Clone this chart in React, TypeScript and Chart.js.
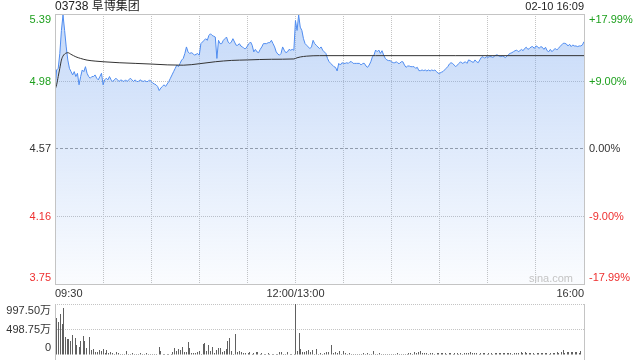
import React, { useEffect, useRef } from "react";
import { Chart, registerables } from "chart.js";

Chart.register(...registerables);

const FONT = '"Liberation Sans", Arial, "Noto Sans CJK SC", sans-serif';
Chart.defaults.font.family = FONT;

// ---------- data ----------
const titleText = "03738 阜博集团";
const stampText = "02-10 16:09";
const watermark = "sina.com";

const gridMinutes = [0, 30, 60, 90, 120, 150, 180, 210, 240, 270, 300, 330];
const xLabelMinutes = [0, 150, 330];
const xLabelTexts = ["09:30", "12:00/13:00", "16:00"];

const priceTicks = [5.39, 4.98, 4.57, 4.16, 3.75];
const priceTickLabels = ["5.39", "4.98", "4.57", "4.16", "3.75"];
const pctTickLabels = ["+17.99%", "+9.00%", "0.00%", "-9.00%", "-17.99%"];
const tickColors = ["#1ea01e", "#1ea01e", "#333333", "#ee2f2f", "#ee2f2f"];
const prevClose = 4.57;

const volTicks = [997.5, 498.75, 0];
const volTickLabels = ["997.50万", "498.75万", "0"];

// price per minute (index = minutes since 09:30, lunch break removed)
const prices = [
  4.93, 5.05, 5.06, 5.15, 5.29, 5.384, 5.29, 5.19, 5.11, 5.06,
  5.04, 5.02, 5.04, 5.01, 5.03, 4.96, 5.01, 5.05, 5.04, 5.07,
  5.03, 5.01, 5.0, 5.01, 5.01, 5.02, 5.0, 4.99, 5.01, 5.03,
  4.96, 4.99, 5.0, 4.99, 5.01, 4.99, 4.98, 4.99, 5.0, 4.99,
  4.98, 4.99, 4.985, 4.98, 4.99, 4.98, 4.99, 5.0, 4.99, 4.98,
  4.99, 4.98, 4.98, 4.99, 4.985, 4.98, 4.985, 4.98, 4.98, 4.99,
  4.98, 4.97, 4.965, 4.96, 4.95, 4.925, 4.94, 4.95, 4.96, 4.95,
  4.965, 4.98, 5.0, 5.02, 5.04, 5.06, 5.08, 5.07, 5.09, 5.11,
  5.12, 5.15, 5.19, 5.16, 5.15, 5.155, 5.15, 5.14, 5.145, 5.15,
  5.14, 5.21, 5.22, 5.23, 5.24, 5.23, 5.26, 5.27, 5.26, 5.255,
  5.25, 5.12, 5.23, 5.21, 5.21, 5.23, 5.24, 5.25, 5.22, 5.21,
  5.22, 5.24, 5.22, 5.2, 5.2, 5.21, 5.195, 5.19, 5.18, 5.18,
  5.195, 5.21, 5.22, 5.2, 5.16, 5.175, 5.16, 5.155, 5.175, 5.19,
  5.21, 5.21, 5.21, 5.216, 5.216, 5.23, 5.21, 5.19, 5.16, 5.147,
  5.14, 5.15, 5.19, 5.17, 5.155, 5.16, 5.175, 5.17, 5.175, 5.17,
  5.35, 5.29, 5.384, 5.31, 5.29, 5.24, 5.21, 5.2, 5.19, 5.18,
  5.19, 5.23, 5.21, 5.2, 5.19, 5.18, 5.19, 5.17, 5.16, 5.15,
  5.12, 5.1, 5.09, 5.08, 5.07, 5.066, 5.044, 5.09, 5.08, 5.094,
  5.09, 5.09, 5.094, 5.09, 5.1, 5.1, 5.09, 5.09, 5.09, 5.09,
  5.09, 5.08, 5.09, 5.09, 5.074, 5.066, 5.08, 5.1, 5.13, 5.141,
  5.171, 5.161, 5.171, 5.151, 5.167, 5.141, 5.121, 5.111, 5.107, 5.107,
  5.1, 5.094, 5.094, 5.1, 5.09, 5.09, 5.1, 5.1, 5.08, 5.066,
  5.074, 5.074, 5.07, 5.07, 5.07, 5.06, 5.066, 5.046, 5.046, 5.05,
  5.046, 5.05, 5.044, 5.05, 5.044, 5.05, 5.046, 5.05, 5.04, 5.03,
  5.03, 5.036, 5.04, 5.05, 5.06, 5.07, 5.086, 5.094, 5.09, 5.08,
  5.07, 5.08, 5.09, 5.1, 5.09, 5.094, 5.1, 5.09, 5.111, 5.107,
  5.1, 5.096, 5.111, 5.1, 5.094, 5.111, 5.127, 5.131, 5.121, 5.131,
  5.127, 5.131, 5.131, 5.127, 5.131, 5.141, 5.141, 5.135, 5.131, 5.135,
  5.131, 5.125, 5.135, 5.145, 5.151, 5.155, 5.161, 5.167, 5.171, 5.161,
  5.167, 5.175, 5.167, 5.181, 5.188, 5.175, 5.181, 5.19, 5.192, 5.181,
  5.196, 5.192, 5.181, 5.192, 5.188, 5.175, 5.188, 5.167, 5.161, 5.175,
  5.161, 5.171, 5.181, 5.171, 5.181, 5.192, 5.202, 5.212, 5.212, 5.208,
  5.196, 5.206, 5.192, 5.202, 5.196, 5.196, 5.192, 5.196, 5.196, 5.202,
  5.222,
];

// average price line
const avgMinutes = [0, 1, 2, 3, 4, 5, 6, 7, 8, 10, 13, 16, 20, 25, 30, 40, 50, 60, 70, 80, 90, 100, 110, 120, 135, 149, 151, 153, 157, 165, 200, 250, 300, 330];
const avgValues = [4.93, 4.96, 5.01, 5.06, 5.11, 5.135, 5.147, 5.153, 5.155, 5.145, 5.13, 5.12, 5.11, 5.104, 5.1, 5.094, 5.09, 5.086, 5.081, 5.079, 5.088, 5.1, 5.108, 5.111, 5.115, 5.117, 5.124, 5.129, 5.134, 5.137, 5.137, 5.137, 5.137, 5.137];

// volume bars: [minute, volume in 万]
const volumeBars: [number, number][] = [
  [0, 652], [1, 731], [2.3, 652], [3.3, 811], [4.4, 612], [5.2, 911], [6.4, 346], [7.7, 313], [8.5, 313], [9.8, 279],
  [11.2, 399], [12.7, 333], [13.7, 200], [15, 166], [16.2, 266], [17.5, 379], [18.5, 279], [19.8, 133], [21.4, 352], [22.7, 100],
  [24.1, 113], [25.4, 53], [26.6, 66], [27.9, 100], [28.9, 86], [30, 113], [31.2, 33], [32, 93], [33.3, 33], [34.5, 66],
  [35.8, 33], [37, 13], [38.3, 66], [39.5, 33], [40.8, 20], [42, 13], [43.3, 27], [44.5, 86], [45.8, 20], [47, 13],
  [48.3, 33], [49.5, 13], [50.8, 20], [52, 13], [53.3, 33], [54.5, 27], [55.7, 13], [57, 46], [58.2, 20], [59.5, 13],
  [60.7, 27], [62, 13], [63.2, 20], [64.9, 153], [66.1, 80], [67.4, 13], [68.6, 27], [69.9, 7], [71.1, 13], [72.4, 27],
  [73.6, 53], [74.5, 133], [75.7, 80], [77, 120], [78.2, 100], [79.5, 153], [80.7, 53], [82, 66], [83.2, 253], [84, 133],
  [85.3, 33], [86.5, 33], [87.8, 33], [89, 66], [89.9, 86], [91.1, 27], [92.4, 219], [93.2, 233], [94.4, 80], [95.7, 200],
  [96.9, 86], [98.2, 166], [99.4, 33], [100.7, 100], [101.9, 146], [103.2, 146], [104.4, 66], [105.7, 80], [106.9, 113], [107.7, 266],
  [108.6, 333], [109.8, 80], [110.4, 46], [111.6, 20], [112.9, 419], [114.1, 53], [115.4, 80], [116.6, 66], [117.9, 46], [119.1, 33],
  [120.4, 46], [121.6, 66], [122.9, 20], [124.1, 33], [125.4, 66], [126.6, 66], [127.9, 27], [129.1, 33], [130.4, 27], [131.6, 20],
  [132.9, 33], [134.1, 27], [135.4, 13], [136.6, 20], [137.9, 27], [139.1, 20], [140.3, 66], [141.6, 66], [142.8, 13], [144.1, 20],
  [145.3, 66], [146.6, 3], [147.8, 7], [149.1, 13], [150.3, 997.5], [151.4, 86], [152.4, 432], [153.2, 113], [154.5, 66], [155.7, 53],
  [157, 80], [158.2, 100], [159.5, 53], [160.7, 100], [162, 13], [163.2, 113], [164.5, 20], [165.7, 46], [167, 27], [168.2, 33],
  [169.5, 53], [170.7, 53], [172.4, 186], [173.6, 46], [174.9, 53], [176.1, 33], [177.4, 86], [178.6, 27], [179.9, 86], [181.1, 33],
  [182.4, 20], [183.6, 33], [184.9, 27], [186.1, 20], [187.4, 27], [188.6, 13], [189.9, 20], [191.1, 20], [192.4, 46], [193.6, 20],
  [194.8, 46], [196.1, 27], [197.3, 20], [198.6, 80], [199.8, 27], [201.1, 20], [202.3, 46], [203.6, 20], [204.8, 27], [206.1, 20],
  [207.3, 7], [208.6, 13], [209.8, 20], [211.1, 13], [212.3, 20], [213.6, 33], [214.8, 13], [216.1, 20], [217.3, 13], [218.6, 20],
  [219.8, 27], [220.8, 33], [222, 40], [223.3, 27], [224.5, 53], [225.8, 47], [227, 66], [228.3, 86], [229.5, 47], [230.8, 33],
  [232, 40], [233.3, 27], [234.5, 33], [235.8, 40], [237, 27], [238.3, 33], [239.5, 40], [240.8, 47], [242, 33], [243.3, 40],
  [244.5, 27], [245.8, 33], [247, 40], [248.3, 27], [249.5, 33], [250.8, 40], [252, 27], [253.2, 33], [254.5, 27], [255.7, 33],
  [257, 40], [258.2, 33], [259.5, 60], [260.7, 33], [262, 40], [263.2, 33], [264.5, 27], [265.7, 33], [267, 40], [268.2, 33],
  [269.5, 27], [270.7, 40], [272, 33], [273.2, 27], [274.5, 40], [275.7, 33], [277, 47], [278.2, 33], [279.5, 40], [280.7, 47],
  [282, 33], [283.2, 40], [284.4, 33], [285.7, 27], [286.9, 40], [288.2, 33], [289.4, 47], [290.7, 60], [291.9, 40], [293.2, 53],
  [294.4, 33], [295.7, 40], [296.9, 47], [298.2, 33], [299.4, 27], [300.7, 33], [301.9, 40], [303.2, 33], [304.4, 47], [305.7, 40],
  [306.9, 33], [308.2, 27], [309.4, 40], [310.7, 33], [311.9, 47], [313.2, 60], [314.4, 40], [315.7, 60], [316.9, 106], [318.1, 47],
  [319.4, 66], [320.6, 53], [321.9, 66], [323.1, 60], [324.4, 66], [325.6, 53], [326.9, 47], [328.1, 80], [330, 113],
];

// ---------- styles ----------
const GRID = "#c4c4c4";
const LINE_BLUE = "#4f8cf0";
const AVG_LINE = "#333333";
const BAR = "#606060";
const TEXT = "#333333";

const clamp = (v: number, lo: number, hi: number) => Math.min(Math.max(v, lo), hi);

const priceFrame = {
  id: "priceFrame",
  afterDraw(chart: any) {
    const { ctx, chartArea: a, scales } = chart;
    const ys = scales.y;
    ctx.save();
    ctx.setLineDash([]);
    ctx.strokeStyle = GRID;
    ctx.lineWidth = 1;
    ctx.strokeRect(a.left + 0.5, a.top + 0.5, a.right - a.left, a.bottom - a.top);

    ctx.font = `11px ${FONT}`;
    ctx.textBaseline = "middle";
    priceTicks.forEach((v, i) => {
      const py = clamp(ys.getPixelForValue(v), a.top + 6, a.bottom - 6);
      ctx.fillStyle = tickColors[i];
      ctx.textAlign = "right";
      ctx.fillText(priceTickLabels[i], a.left - 4, py);
      ctx.textAlign = "left";
      ctx.fillText(pctTickLabels[i], a.right + 5, py);
    });

    ctx.fillStyle = "#222222";
    ctx.font = `12px ${FONT}`;
    ctx.textAlign = "left";
    ctx.fillText(titleText, a.left, 7);
    ctx.font = `11px ${FONT}`;
    ctx.textAlign = "right";
    ctx.fillText(stampText, a.right, 7);

    ctx.fillStyle = "#c4c4c4";
    ctx.font = `11px ${FONT}`;
    ctx.textAlign = "right";
    ctx.fillText(watermark, a.right - 11, a.bottom - 5);
    ctx.restore();
  },
};

const volumeFrame = {
  id: "volumeFrame",
  beforeDatasetsDraw(chart: any) {
    const meta = chart.getDatasetMeta(0);
    meta.data.forEach((el: any) => {
      el.x = Math.round(el.x - 0.5) + 0.5;
      el.y = Math.round(el.y);
    });
  },
  afterDraw(chart: any) {
    const { ctx, chartArea: a, scales, height } = chart;
    const ys = scales.y;
    ctx.save();
    ctx.setLineDash([]);
    ctx.strokeStyle = GRID;
    ctx.lineWidth = 1;
    ctx.beginPath();
    ctx.moveTo(a.left + 0.5, a.top);
    ctx.lineTo(a.left + 0.5, height);
    ctx.moveTo(a.right + 0.5, a.top);
    ctx.lineTo(a.right + 0.5, height);
    ctx.stroke();

    ctx.font = `11px ${FONT}`;
    ctx.textBaseline = "middle";
    ctx.textAlign = "right";
    ctx.fillStyle = TEXT;
    volTicks.forEach((v, i) => {
      const py = clamp(ys.getPixelForValue(v), a.top + 7, a.bottom - 7);
      ctx.fillText(volTickLabels[i], a.left - 4, py);
    });
    ctx.restore();
  },
};

export default function App() {
  const priceRef = useRef<HTMLCanvasElement>(null);
  const volRef = useRef<HTMLCanvasElement>(null);

  useEffect(() => {
    const priceChart = new Chart(priceRef.current as HTMLCanvasElement, {
      type: "line",
      data: {
        datasets: [
          {
            label: "均价",
            data: avgMinutes.map((m, i) => ({ x: m, y: avgValues[i] })),
            borderColor: AVG_LINE,
            borderWidth: 1,
            pointRadius: 0,
            fill: false,
            cubicInterpolationMode: "monotone",
          },
          {
            label: "价格",
            data: prices.map((p, i) => ({ x: i, y: p })),
            borderColor: LINE_BLUE,
            borderWidth: 1,
            pointRadius: 0,
            tension: 0,
            fill: "start",
            backgroundColor: (c: any) => {
              const a = c.chart.chartArea;
              if (!a) return "rgba(0,0,0,0)";
              const g = c.chart.ctx.createLinearGradient(0, a.top, 0, a.bottom);
              g.addColorStop(0, "rgba(110,160,238,0.40)");
              g.addColorStop(1, "rgba(110,160,238,0.03)");
              return g;
            },
          },
        ],
      } as any,
      options: {
        animation: false,
        responsive: false,
        devicePixelRatio: 1,
        layout: { padding: { left: 55, right: 56, top: 14, bottom: 0 } },
        plugins: { legend: { display: false }, tooltip: { enabled: false } },
        scales: {
          x: {
            type: "linear",
            min: 0,
            max: 330,
            afterBuildTicks: (s: any) => {
              s.ticks = gridMinutes.map((v) => ({ value: v }));
            },
            afterFit: (s: any) => {
              s.height = 16;
            },
            ticks: {
              autoSkip: false,
              maxRotation: 0,
              align: "inner",
              padding: 3,
              color: TEXT,
              font: { size: 11, family: FONT },
              callback: (v: any) => {
                const k = xLabelMinutes.indexOf(Number(v));
                return k >= 0 ? xLabelTexts[k] : "";
              },
            },
            grid: {
              drawTicks: false,
              lineWidth: 1,
              color: (c: any) => {
                const v = c.tick?.value;
                return v === 0 || v === 330 ? "rgba(0,0,0,0)" : GRID;
              },
            },
            border: { display: false, dash: [1, 1] },
          },
          y: {
            type: "linear",
            min: 3.75,
            max: 5.39,
            afterBuildTicks: (s: any) => {
              s.ticks = priceTicks.map((v) => ({ value: v }));
            },
            afterFit: (s: any) => {
              s.width = 0;
            },
            ticks: { display: false },
            grid: {
              drawTicks: false,
              lineWidth: 1,
              color: (c: any) => {
                const v = c.tick?.value;
                if (v === prevClose) return "#9a9a9a";
                if (v === 5.39 || v === 3.75) return "rgba(0,0,0,0)";
                return GRID;
              },
            },
            border: {
              display: false,
              dash: (c: any) => (c.tick?.value === prevClose ? [3, 2] : [1, 1]),
            },
          },
        },
      } as any,
      plugins: [priceFrame],
    });

    const volChart = new Chart(volRef.current as HTMLCanvasElement, {
      type: "bar",
      data: {
        datasets: [
          {
            label: "成交量",
            data: volumeBars.map(([m, v]) => ({ x: m, y: v })),
            backgroundColor: BAR,
            borderWidth: 0,
            barThickness: 1,
            inflateAmount: 0,
          },
        ],
      } as any,
      options: {
        animation: false,
        responsive: false,
        devicePixelRatio: 1,
        layout: { padding: { left: 55, right: 56, top: 6, bottom: 5 } },
        plugins: { legend: { display: false }, tooltip: { enabled: false } },
        scales: {
          x: {
            type: "linear",
            min: 0,
            max: 330,
            display: false,
            offset: false,
            grid: { offset: false },
          },
          y: {
            type: "linear",
            min: 0,
            max: 997.5,
            afterBuildTicks: (s: any) => {
              s.ticks = volTicks.map((v) => ({ value: v }));
            },
            afterFit: (s: any) => {
              s.width = 0;
            },
            ticks: { display: false },
            grid: {
              drawTicks: false,
              lineWidth: 1,
              color: (c: any) => (c.tick?.value === 0 ? "rgba(0,0,0,0)" : GRID),
            },
            border: { display: false, dash: [1, 1] },
          },
        },
      } as any,
      plugins: [volumeFrame],
    });

    return () => {
      priceChart.destroy();
      volChart.destroy();
    };
  }, []);

  return (
    <div style={{ position: "fixed", left: 0, top: 0, width: 640, height: 360, background: "#ffffff" }}>
      <canvas
        ref={priceRef}
        width={640}
        height={300}
        style={{ position: "absolute", left: 0, top: 0, width: 640, height: 300 }}
      />
      <canvas
        ref={volRef}
        width={640}
        height={62}
        style={{ position: "absolute", left: 0, top: 298, width: 640, height: 62 }}
      />
    </div>
  );
}
